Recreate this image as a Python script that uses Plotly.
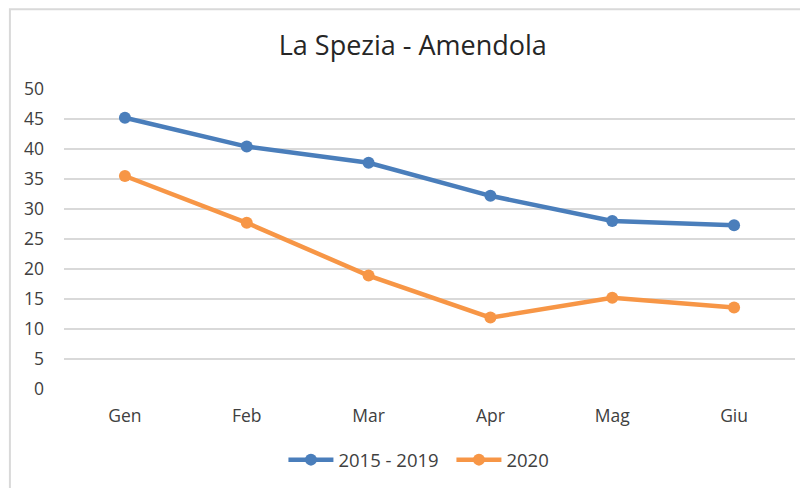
import plotly.graph_objects as go

# monthly values
months = ["Gen", "Feb", "Mar", "Apr", "Mag", "Giu"]
media_2015_2019 = [45.2, 40.4, 37.7, 32.2, 28.0, 27.3]
valori_2020 = [35.5, 27.7, 18.9, 11.9, 15.2, 13.6]
y_ticks = [0, 5, 10, 15, 20, 25, 30, 35, 40, 45, 50]

BLUE = "#4a7ebb"
ORANGE = "#f79646"
FONT = "Open Sans, Liberation Sans, sans-serif"

fig = go.Figure()

fig.add_trace(go.Scatter(
    x=months, y=media_2015_2019, name="2015 - 2019",
    mode="lines+markers",
    line=dict(color=BLUE, width=4.5),
    marker=dict(color=BLUE, size=12),
))

fig.add_trace(go.Scatter(
    x=months, y=valori_2020, name="2020",
    mode="lines+markers",
    line=dict(color=ORANGE, width=4.5),
    marker=dict(color=ORANGE, size=12),
))

# light gray frame around the whole chart area
fig.add_shape(
    type="rect", xref="paper", yref="paper",
    x0=-0.074, x1=1.05, y0=-0.45, y1=1.266,
    line=dict(color="#d9d9d9", width=2),
    fillcolor="rgba(0,0,0,0)", layer="below",
)

fig.update_layout(
    width=808, height=488,
    margin=dict(l=56, r=21, t=81, b=107, autoexpand=False),
    paper_bgcolor="white", plot_bgcolor="white",
    font=dict(family=FONT, color="#595959", size=17),
    title=dict(
        text="La Spezia - Amendola",
        xref="container", x=0.501, xanchor="center",
        yref="container", y=0.924, yanchor="middle",
        font=dict(family=FONT, size=27, color="#262626"),
    ),
    xaxis=dict(
        range=[-0.5, 5.5],
        showgrid=False, showline=False, zeroline=False,
        ticks="", tickfont=dict(size=17.5, color="#404040"),
        ticklabelstandoff=14, automargin=False,
    ),
    yaxis=dict(
        range=[0, 50], tickvals=y_ticks,
        showgrid=True, gridcolor="#d9d9d9", gridwidth=1.5,
        zeroline=False, showline=False, ticks="",
        tickfont=dict(size=17.5, color="#404040"),
        ticklabelstandoff=19, automargin=False,
    ),
    legend=dict(
        orientation="h", x=0.530, xanchor="center",
        y=-0.237, yanchor="middle",
        font=dict(size=18.5, color="#404040"),
        entrywidth=108, itemwidth=45,
    ),
    showlegend=True,
)

fig.write_html("out.html")
